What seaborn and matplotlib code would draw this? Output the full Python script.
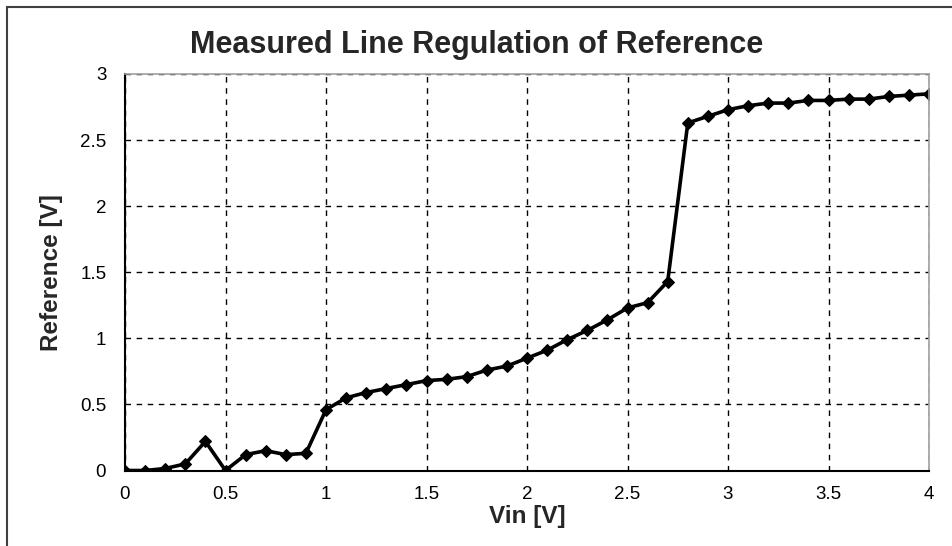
import matplotlib
matplotlib.use("Agg")
import matplotlib.pyplot as plt
import seaborn as sns
import pandas as pd
from matplotlib.patches import Rectangle

vin = [0.0, 0.1, 0.2, 0.3, 0.4, 0.5, 0.6, 0.7, 0.8, 0.9,
       1.0, 1.1, 1.2, 1.3, 1.4, 1.5, 1.6, 1.7, 1.8, 1.9,
       2.0, 2.1, 2.2, 2.3, 2.4, 2.5, 2.6, 2.7, 2.8, 2.9,
       3.0, 3.1, 3.2, 3.3, 3.4, 3.5, 3.6, 3.7, 3.8, 3.9, 4.0]
reference = [0.0, 0.0, 0.015, 0.05, 0.22, 0.0, 0.12, 0.15, 0.12, 0.13,
             0.46, 0.55, 0.59, 0.62, 0.65, 0.68, 0.69, 0.71, 0.76, 0.79,
             0.85, 0.91, 0.99, 1.06, 1.14, 1.23, 1.27, 1.43, 2.63, 2.68,
             2.73, 2.76, 2.78, 2.78, 2.80, 2.80, 2.81, 2.81, 2.83, 2.84, 2.85]
x_ticks = [0, 0.5, 1, 1.5, 2, 2.5, 3, 3.5, 4]
x_tick_labels = ["0", "0.5", "1", "1.5", "2", "2.5", "3", "3.5", "4"]
y_ticks = [0, 0.5, 1, 1.5, 2, 2.5, 3]
y_tick_labels = ["0", "0.5", "1", "1.5", "2", "2.5", "3"]

df = pd.DataFrame({"Vin": vin, "Reference": reference})

sns.set_style("white")
plt.rcParams["font.family"] = ["Liberation Sans", "DejaVu Sans"]

fig = plt.figure(figsize=(9.53, 5.46), dpi=100)
W, H = 953, 546
ax = fig.add_axes([125 / W, 1 - 470.5 / H, (929 - 125) / W, (470.5 - 74) / H])

sns.lineplot(data=df, x="Vin", y="Reference", ax=ax, color="black",
             linewidth=2.6, marker="D", markersize=6.5,
             markeredgecolor="black", markerfacecolor="black")

ax.set_xlim(0, 4)
ax.set_ylim(0, 3)
ax.set_xticks(x_ticks)
ax.set_xticklabels(x_tick_labels)
ax.set_yticks(y_ticks)
ax.set_yticklabels(y_tick_labels)
ax.grid(True, color="black", linestyle=(0, (4, 4)), linewidth=1)
ax.tick_params(axis="both", direction="inout", length=7, width=1,
               colors="black", labelsize=13.5)
ax.tick_params(axis="y", pad=10)
ax.tick_params(axis="x", pad=8)
for s in ["left", "bottom"]:
    ax.spines[s].set_color("black")
    ax.spines[s].set_linewidth(1.5)
for s in ["top", "right"]:
    ax.spines[s].set_color("#a0a0a0")
    ax.spines[s].set_linewidth(1.2)

ax.set_xlabel("Vin [V]", fontsize=17.5, fontweight="bold", labelpad=1)
ax.set_ylabel("Reference [V]", fontsize=17.5, fontweight="bold", labelpad=12)

fig.text(0.5, 1 - 45 / H, "Measured Line Regulation of Reference",
         ha="center", va="center", fontsize=22, fontweight="bold")

fig.patches.append(Rectangle((7 / W, -0.1), 1.2, 1 - 7 / H + 0.1,
                             transform=fig.transFigure, fill=False,
                             edgecolor="#404040", linewidth=1.5))

fig.savefig("out.png", dpi=100)
